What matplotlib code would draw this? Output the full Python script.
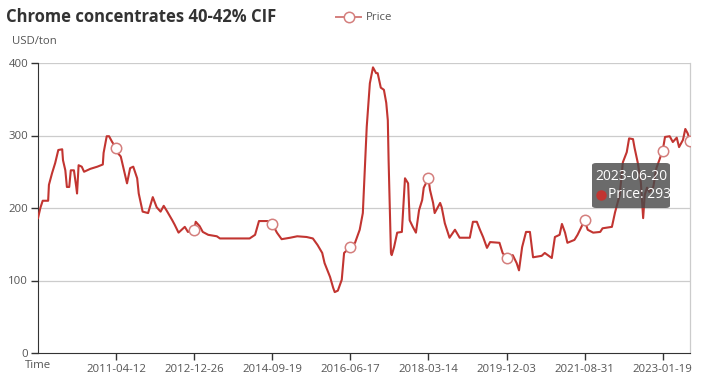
import numpy as np
import matplotlib
matplotlib.use("Agg")
import matplotlib.pyplot as plt
from matplotlib.patches import FancyBboxPatch
from matplotlib.lines import Line2D

# ---------------- data ----------------
title = "Chrome concentrates 40-42% CIF"
series_name = "Price"
y_unit = "USD/ton"
x_name = "Time"

# category positions (index along the category axis) and prices
idx = [0, 3, 6, 13, 14, 18, 22, 26, 31, 32, 35, 37, 40, 42, 46, 49, 50, 52, 56, 59,
       67, 76, 83, 84, 88, 91, 95, 100, 102, 106, 109, 114, 118, 122, 127, 129, 134,
       141, 147, 152, 157, 161, 165, 172, 175, 180, 188, 192, 200, 202, 207, 211, 218,
       229, 233, 271, 278, 283, 294, 300, 306, 312, 323, 332, 344, 352, 358, 364, 367,
       374, 378, 380, 384, 389, 392, 400, 406, 412, 416, 419, 421, 425, 429, 433, 435,
       439, 443, 446, 448, 449, 452, 453, 456, 460, 466, 470, 474, 476, 480, 484, 488,
       492, 494, 500, 502, 506, 508, 515, 517, 521, 527, 534, 540, 553, 557, 562, 566,
       570, 575, 579, 591, 595, 600, 604, 608, 613, 616, 620, 625, 630, 634, 645, 649,
       658, 662, 668, 671, 675, 678, 687, 691, 700, 704, 711, 720, 723, 735, 739, 745,
       749, 754, 757, 762, 764, 768, 772, 775, 777, 780, 783, 788, 792, 800, 803, 809,
       813, 818, 821, 826, 829, 832, 835]
price = [186, 200, 210, 210, 232, 248, 262, 280, 281, 266, 252, 229, 229, 252, 252, 229, 220, 259, 257, 250,
         254, 257, 260, 276, 299, 299, 291, 283, 276, 271, 257, 234, 255, 257, 241, 220, 195,
         193, 215, 201, 195, 203, 196, 183, 177, 166, 174, 167, 170, 181, 175, 167, 163,
         161, 158, 158, 163, 182, 182, 178, 166, 157, 159, 161, 160, 158, 149, 138, 124,
         105, 90, 84, 86, 101, 138, 146, 152, 170, 193, 266, 312, 372, 394, 386, 386,
         366, 363, 345, 321, 266, 138, 135, 146, 166, 167, 241, 234, 183, 174, 166, 197,
         211, 228, 241, 225, 207, 193, 207, 201, 179, 159, 170, 159, 159, 181, 181, 170,
         160, 145, 153, 152, 138, 131, 132, 135, 124, 114, 146, 167, 167, 132, 134, 138,
         131, 160, 163, 178, 166, 152, 156, 163, 183, 170, 166, 167, 172, 174, 194, 218,
         263, 277, 296, 295, 283, 263, 236, 186, 218, 228, 222, 229, 255, 279, 298, 299,
         291, 297, 284, 294, 309, 303, 293]
n_last = 835

tick_idx = [100, 200, 300, 400, 500, 600, 700, 800]
tick_labels = ["2011-04-12", "2012-12-26", "2014-09-19", "2016-06-17",
               "2018-03-14", "2019-12-03", "2021-08-31", "2023-01-19"]
marker_idx = tick_idx + [n_last]
y_ticks = [0, 100, 200, 300, 400]

tooltip_date = "2023-06-20"
tooltip_price = price[-1]

# ---------------- style ----------------
W, H = 717, 382
line_color = "#c23531"
text_color = "#555555"
plt.rcParams["font.family"] = ["Open Sans", "DejaVu Sans"]

fig = plt.figure(figsize=(W / 100, H / 100), dpi=100)
ax = fig.add_axes([38 / W, 1 - 353 / H, (690 - 38) / W, (353 - 63) / H])

ax.plot(idx, price, color=line_color, lw=1.5, zorder=3, solid_joinstyle="round")
mvals = np.interp(marker_idx, idx, price)
ax.plot(marker_idx, mvals, ls="none", marker="o", ms=7.5, mfc="white",
        mec="#d47f7d", mew=1.1, zorder=4)

ax.set_xlim(0, n_last)
ax.set_ylim(0, 400)
ax.set_xticks(tick_idx)
ax.set_xticklabels(tick_labels)
ax.set_yticks(y_ticks)
ax.tick_params(axis="x", length=5, width=1, color="#333333", labelsize=8.2,
               labelcolor=text_color, pad=3)
ax.tick_params(axis="y", length=5, width=1, color="#333333", labelsize=8.2,
               labelcolor=text_color, pad=2)
for yv in y_ticks[1:]:
    ax.axhline(yv, color="#cccccc", lw=0.9, zorder=1)
ax.spines["top"].set_visible(False)
ax.spines["right"].set_color("#cccccc")
ax.spines["right"].set_linewidth(0.9)
ax.spines["left"].set_color("#333333")
ax.spines["bottom"].set_color("#333333")

# axis names
fig.text(38 / W, 1 - 366 / H, x_name, ha="center", va="center", fontsize=8.2, color=text_color)
fig.text(12 / W, 1 - 42 / H, y_unit, ha="left", va="center", fontsize=8.2, color=text_color)

# title
fig.text(6 / W, 1 - 17 / H, title, ha="left", va="center", fontsize=12.0,
         fontweight="bold", color="#333333")

# legend
lx0, lx1, ly = 336 / W, 361 / W, 1 - 17 / H
fig.add_artist(Line2D([lx0, lx1], [ly, ly], color="#d47f7d", lw=1.4))
fig.add_artist(Line2D([(lx0 + lx1) / 2], [ly], marker="o", ms=7.5, mfc="white",
                      mec="#d47f7d", mew=1.1, ls="none"))
fig.text(366 / W, ly, series_name, ha="left", va="center", fontsize=8.2, color=text_color)

# tooltip
box = FancyBboxPatch((592 / W, 1 - 208 / H), 78 / W, 45 / H,
                     boxstyle="round,pad=0,rounding_size=0.006",
                     transform=fig.transFigure, fc="#4a4a4a", ec="none", alpha=0.82,
                     zorder=10)
fig.add_artist(box)
fig.text(631 / W, 1 - 176 / H, tooltip_date, ha="center", va="center", fontsize=10,
         color="white", zorder=11)
fig.add_artist(Line2D([601 / W], [1 - 195 / H], marker="o", ms=6.5, mfc=line_color,
                      mec=line_color, ls="none", zorder=11))
fig.text(608 / W, 1 - 195 / H, f"{series_name}: {tooltip_price}", ha="left", va="center",
         fontsize=10, color="white", zorder=11)

fig.savefig("out.png", dpi=100)
